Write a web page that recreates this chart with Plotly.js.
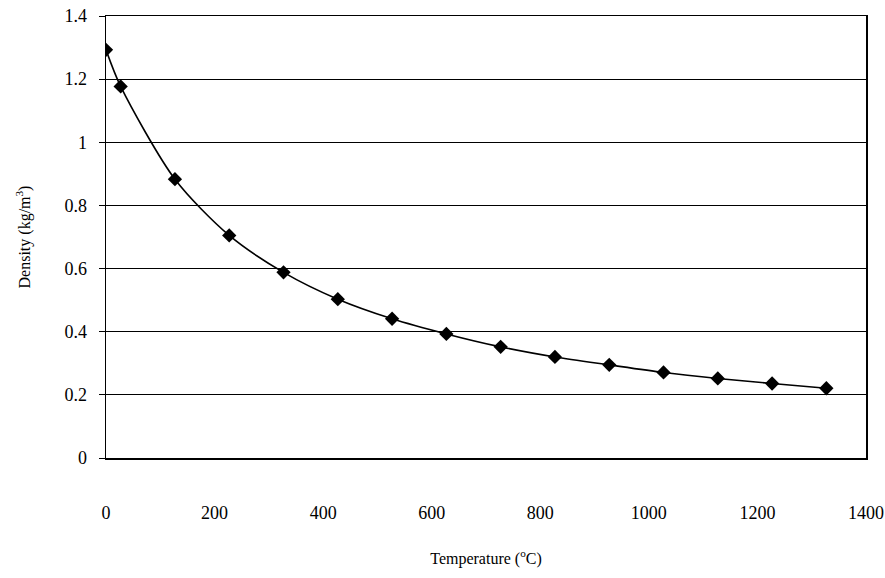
<!DOCTYPE html>
<html>
<head>
<meta charset="utf-8">
<script src="https://cdn.plot.ly/plotly-3.0.1.min.js"></script>
<style>html,body{margin:0;padding:0;background:#fff;}#chart{width:885px;height:578px;}</style>
</head>
<body>
<div id="chart"></div>
<script>
const temperature = [0, 27, 127, 227, 327, 427, 527, 627, 727, 827, 927, 1027, 1127, 1227, 1327];
const density = [1.293, 1.177, 0.883, 0.705, 0.588, 0.503, 0.441, 0.393, 0.352, 0.320, 0.295, 0.271, 0.252, 0.236, 0.221];
const xTicks = [0, 200, 400, 600, 800, 1000, 1200, 1400];
const yTicks = [0, 0.2, 0.4, 0.6, 0.8, 1, 1.2, 1.4];

const font = "Liberation Serif, Times New Roman, serif";
Plotly.newPlot('chart', [{
  x: temperature, y: density,
  type: 'scatter', mode: 'lines+markers',
  line: {color: '#000', width: 1.6, shape: 'spline', smoothing: 0.8},
  marker: {symbol: 'diamond', size: 11, color: '#000'},
  showlegend: false
}], {
  width: 885, height: 578,
  margin: {l: 106, r: 19, t: 16, b: 120},
  paper_bgcolor: '#fff', plot_bgcolor: '#fff',
  font: {family: font, color: '#000', size: 14},
  xaxis: {
    range: [0, 1400], tickvals: xTicks, ticktext: xTicks.map(String),
    showgrid: false, zeroline: false,
    showline: true, linecolor: '#000', linewidth: 1.5, mirror: true,
    ticks: '', ticklabelstandoff: 38,
    tickfont: {family: font, size: 18},
    title: {text: 'Temperature (<sup>o</sup>C)', font: {family: font, size: 16}, standoff: 30}
  },
  yaxis: {
    range: [0, 1.4], tickvals: yTicks, ticktext: yTicks.map(String),
    showgrid: true, gridcolor: '#000', gridwidth: 1.2,
    zeroline: false,
    showline: true, linecolor: '#000', linewidth: 1.5, mirror: true,
    ticks: 'outside', ticklen: 6, tickcolor: '#000', ticklabelstandoff: 8,
    tickfont: {family: font, size: 18},
    title: {text: 'Density (kg/m<sup>3</sup>)', font: {family: font, size: 16}, standoff: 30}
  }
}, {displayModeBar: false, staticPlot: true});
</script>
</body>
</html>
